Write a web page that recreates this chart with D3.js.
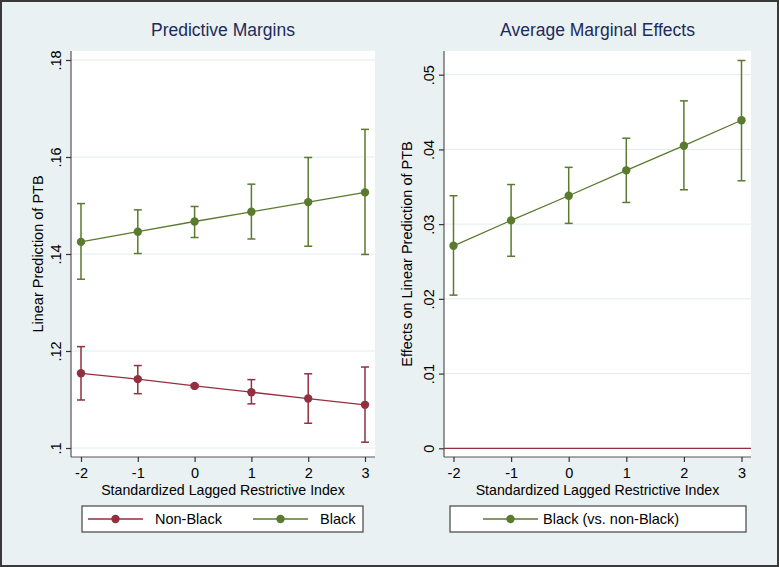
<!DOCTYPE html>
<html><head><meta charset="utf-8">
<script src="https://d3js.org/d3.v7.min.js"></script>
<style>body{margin:0;background:#fff}svg{display:block}text{font-family:"Liberation Sans",Arial,sans-serif}</style>
</head><body>
<script>
const xValues = [-2, -1, 0, 1, 2, 3];
const xTicks = [-2, -1, 0, 1, 2, 3];
// Predictive Margins
const nonBlackMean = [0.1154, 0.1142, 0.1128, 0.1115, 0.1102, 0.1089];
const nonBlackLo   = [0.1099, 0.1112, 0.1125, 0.1091, 0.1051, 0.1012];
const nonBlackHi   = [0.1209, 0.1170, 0.1131, 0.1141, 0.1153, 0.1167];
const blackMean = [0.1425, 0.1446, 0.1467, 0.1487, 0.1507, 0.1527];
const blackLo   = [0.1348, 0.1401, 0.1434, 0.1431, 0.1416, 0.1399];
const blackHi   = [0.1504, 0.1491, 0.1498, 0.1544, 0.1599, 0.1657];
const leftYTicks = [0.10, 0.12, 0.14, 0.16, 0.18];
const leftYLabels = [".1", ".12", ".14", ".16", ".18"];
// Average Marginal Effects
const ameMean = [0.0271, 0.0305, 0.0338, 0.0372, 0.0405, 0.0439];
const ameLo   = [0.0205, 0.0257, 0.0301, 0.0329, 0.0346, 0.0358];
const ameHi   = [0.0338, 0.0353, 0.0376, 0.0415, 0.0465, 0.0519];
const rightYTicks = [0, 0.01, 0.02, 0.03, 0.04, 0.05];
const rightYLabels = ["0", ".01", ".02", ".03", ".04", ".05"];

const W = 779, H = 567;
const RED = "#933040", GREEN = "#5a7a2e", NAVY = "#1c2b5c", BG = "#eaf1f2", GRID = "#e2ecee";
const FS = 14.5;

const svg = d3.select("body").append("svg").attr("width", W).attr("height", H);
svg.append("rect").attr("x",0).attr("y",0).attr("width",W).attr("height",H).attr("fill",BG);
svg.append("rect").attr("x",1).attr("y",1).attr("width",W-2).attr("height",H-2)
  .attr("fill","none").attr("stroke","#3a3a3a").attr("stroke-width",2);

function panel(o) {
  const g = svg.append("g");
  const x = d3.scaleLinear().domain([-2, 3]).range([o.x0, o.x3]);
  const y = d3.scaleLinear().domain(o.ydom).range([o.yb, o.yt]);
  // plot region
  g.append("rect").attr("x", o.left).attr("y", o.top).attr("width", o.right - o.left)
    .attr("height", o.bottom - o.top).attr("fill", "#fff");
  // grid
  g.selectAll(".grid").data(o.yTicks).join("line")
    .attr("x1", o.left).attr("x2", o.right)
    .attr("y1", d => y(d)).attr("y2", d => y(d))
    .attr("stroke", GRID).attr("stroke-width", 1);
  if (o.refLine !== undefined) {
    g.append("line").attr("x1", o.left).attr("x2", o.right)
      .attr("y1", y(o.refLine)).attr("y2", y(o.refLine))
      .attr("stroke", RED).attr("stroke-width", 1.3);
  }
  // y axis
  const ya = g.append("g").attr("transform", `translate(${o.left},0)`)
    .call(d3.axisLeft(y).tickValues(o.yTicks).tickFormat((d, i) => o.yLabels[i]).tickSize(5).tickSizeOuter(0));
  ya.select(".domain").attr("d", `M0,${o.top}V${o.bottom}`).attr("stroke", "#555").attr("stroke-width", 1.2);
  ya.selectAll(".tick line").attr("stroke", "#333").attr("stroke-width", 1.2);
  ya.selectAll(".tick text").attr("transform", "rotate(-90)").attr("x", 0).attr("y", -10)
    .attr("dy", "0em").attr("text-anchor", "middle").attr("font-size", FS).attr("fill", "#000");
  // x axis
  const xa = g.append("g").attr("transform", `translate(0,${o.bottom})`)
    .call(d3.axisBottom(x).tickValues(xTicks).tickFormat(d => String(d)).tickSize(5).tickSizeOuter(0));
  xa.select(".domain").attr("d", `M${o.left},0H${o.right}`).attr("stroke", "#555").attr("stroke-width", 1.2);
  xa.selectAll(".tick line").attr("stroke", "#333").attr("stroke-width", 1.2);
  xa.selectAll(".tick text").attr("y", 10.7).attr("font-size", FS).attr("fill", "#000");
  // titles
  g.append("text").attr("x", (o.left + o.right) / 2).attr("y", 35.7).attr("text-anchor", "middle")
    .attr("font-size", 17.5).attr("fill", NAVY).text(o.title);
  g.append("text").attr("x", (o.left + o.right) / 2).attr("y", 494.5).attr("text-anchor", "middle")
    .attr("font-size", 14.2).attr("fill", "#000").text("Standardized Lagged Restrictive Index");
  g.append("text").attr("transform", `translate(${o.ytx},${(o.top + o.bottom) / 2}) rotate(-90)`)
    .attr("text-anchor", "middle").attr("font-size", FS).attr("fill", "#000").text(o.ytitle);
  // series
  o.series.forEach(s => {
    const pts = xValues.map((v, i) => ({x: v, m: s.mean[i], lo: s.lo[i], hi: s.hi[i]}));
    g.append("path").datum(pts).attr("fill", "none").attr("stroke", s.color).attr("stroke-width", 1.3)
      .attr("d", d3.line().x(d => x(d.x)).y(d => y(d.m)));
    const eb = g.append("g").attr("stroke", s.color).attr("stroke-width", 1.5).attr("fill", "none");
    eb.selectAll(".v").data(pts).join("line").attr("x1", d => x(d.x)).attr("x2", d => x(d.x))
      .attr("y1", d => y(d.lo)).attr("y2", d => y(d.hi));
    eb.selectAll(".t").data(pts).join("line").attr("x1", d => x(d.x) - 4).attr("x2", d => x(d.x) + 4)
      .attr("y1", d => y(d.hi)).attr("y2", d => y(d.hi));
    eb.selectAll(".b").data(pts).join("line").attr("x1", d => x(d.x) - 4).attr("x2", d => x(d.x) + 4)
      .attr("y1", d => y(d.lo)).attr("y2", d => y(d.lo));
    g.selectAll(null).data(pts).join("circle").attr("cx", d => x(d.x)).attr("cy", d => y(d.m))
      .attr("r", 4.2).attr("fill", s.color);
  });
  // legend
  g.append("rect").attr("x", o.leg.x).attr("y", 506).attr("width", o.leg.w).attr("height", 26)
    .attr("fill", "#fff").attr("stroke", "#444").attr("stroke-width", 1.2);
  o.leg.items.forEach(it => {
    g.append("line").attr("x1", it.lx).attr("x2", it.lx + 55).attr("y1", 519).attr("y2", 519)
      .attr("stroke", it.color).attr("stroke-width", 1.3);
    g.append("circle").attr("cx", it.lx + 27.5).attr("cy", 519).attr("r", 4.2).attr("fill", it.color);
    g.append("text").attr("x", it.tx).attr("y", 524.3).attr("font-size", FS).attr("fill", "#000").text(it.label);
  });
}

panel({
  title: "Predictive Margins", ytitle: "Linear Prediction of PTB", ytx: 42.7,
  left: 71, right: 375, top: 51, bottom: 457,
  x0: 81, x3: 365, yb: 448, yt: 60, ydom: [0.10, 0.18],
  yTicks: leftYTicks, yLabels: leftYLabels,
  series: [
    {mean: nonBlackMean, lo: nonBlackLo, hi: nonBlackHi, color: RED},
    {mean: blackMean, lo: blackLo, hi: blackHi, color: GREEN}
  ],
  leg: {x: 82, w: 281, items: [
    {lx: 88, tx: 155, color: RED, label: "Non-Black"},
    {lx: 253, tx: 320, color: GREEN, label: "Black"}
  ]}
});

panel({
  title: "Average Marginal Effects", ytitle: "Effects on Linear Prediction of PTB", ytx: 412,
  left: 444, right: 751, top: 51, bottom: 457,
  x0: 453.5, x3: 741.5, yb: 448.3, yt: 74.7, ydom: [0, 0.05],
  yTicks: rightYTicks, yLabels: rightYLabels, refLine: 0,
  series: [{mean: ameMean, lo: ameLo, hi: ameHi, color: GREEN}],
  leg: {x: 450, w: 296, items: [
    {lx: 483, tx: 543, color: GREEN, label: "Black (vs. non-Black)"}
  ]}
});
</script>
</body></html>
